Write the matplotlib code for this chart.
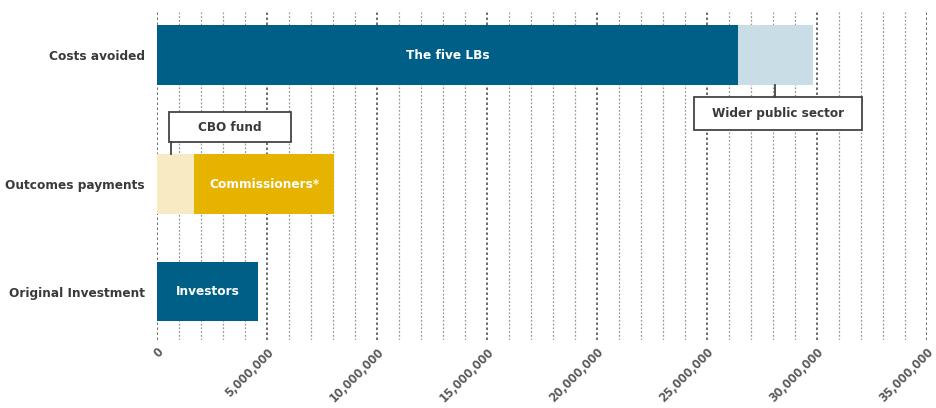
import matplotlib.pyplot as plt
import matplotlib.patches as patches
from matplotlib.ticker import FuncFormatter, MultipleLocator

# data
categories = ['Original Investment', 'Outcomes payments', 'Costs avoided']
investors = [4.6e6, 0, 0]
cbo_fund = [0, 1.7e6, 0]
commissioners = [0, 6.35e6, 0]
five_lbs = [0, 0, 26.4e6]
wider_public = [0, 0, 3.4e6]

# layout
ypos = [0, 1, 2.2]
bar_h = 0.55
dark_blue = '#005f87'
light_blue = '#c8dde6'
gold = '#e6b400'
pale_gold = '#f8eac2'
txt = '#3a3a3a'

plt.rcParams['font.family'] = ['DejaVu Sans']
plt.rcParams['font.stretch'] = 'condensed'

fig = plt.figure(figsize=(9.37, 4.08), dpi=100)
ax = fig.add_axes([0.1676, 0.1667, 0.8217, 0.8039])

ax.barh(ypos, investors, height=bar_h, color=dark_blue)
ax.barh(ypos, cbo_fund, height=bar_h, color=pale_gold)
ax.barh(ypos, commissioners, left=cbo_fund, height=bar_h, color=gold)
ax.barh(ypos, five_lbs, height=bar_h, color=dark_blue)
ax.barh(ypos, wider_public, left=five_lbs, height=bar_h, color=light_blue)

# labels inside bars
inside = dict(color='white', fontsize=9.7, fontweight='bold', ha='center', va='center')
ax.text(investors[0] / 2, ypos[0], 'Investors', **inside)
ax.text(cbo_fund[1] + commissioners[1] / 2, ypos[1], 'Commissioners*', **inside)
ax.text(five_lbs[2] / 2, ypos[2], 'The five LBs', **inside)

# callouts
def callout(x0, x1, y0, y1, label, lx, ly0, ly1):
    ax.add_patch(patches.Rectangle((x0, y0), x1 - x0, y1 - y0, facecolor='white',
                                   edgecolor='#444444', linewidth=1.3, zorder=4))
    ax.text((x0 + x1) / 2, (y0 + y1) / 2, label, ha='center', va='center',
            fontsize=9.6, fontweight='bold', color=txt, zorder=5)
    ax.plot([lx, lx], [ly0, ly1], color='#444444', linewidth=1.3, zorder=4)

callout(0.55e6, 6.1e6, 1.39, 1.67, 'CBO fund', 0.65e6, 1.39, ypos[1] + bar_h / 2)
wp_mid = five_lbs[2] + wider_public[2] / 2
callout(24.4e6, 32.05e6, 1.50, 1.81, 'Wider public sector', wp_mid, 1.81, ypos[2] - bar_h / 2)

# axes
ax.set_xlim(0, 35e6)
ax.set_ylim(-0.45, 2.6)
ax.set_yticks(ypos)
ax.set_yticklabels(categories, fontsize=9.7, fontweight='bold', color=txt)
ax.xaxis.set_major_locator(MultipleLocator(5e6))
ax.xaxis.set_minor_locator(MultipleLocator(1e6))
ax.xaxis.set_major_formatter(FuncFormatter(lambda v, p: f'{v:,.0f}'))
for lab in ax.get_xticklabels():
    lab.set_rotation(45)
    lab.set_ha('right')
    lab.set_va('top')
    lab.set_rotation_mode('anchor')
    lab.set_fontsize(9)
    lab.set_fontweight('bold')
    lab.set_color('#5a5a5a')
ax.tick_params(axis='both', which='both', length=0)
ax.tick_params(axis='x', pad=4)
ax.tick_params(axis='y', pad=9)
ax.grid(axis='x', which='major', linestyle=(0, (1.5, 1.5)), color='#555555', linewidth=1.2)
ax.grid(axis='x', which='minor', linestyle=(0, (1.5, 1.5)), color='#999999', linewidth=0.9)
ax.set_axisbelow(True)
for s in ax.spines.values():
    s.set_visible(False)

fig.savefig('out.png', dpi=100)
